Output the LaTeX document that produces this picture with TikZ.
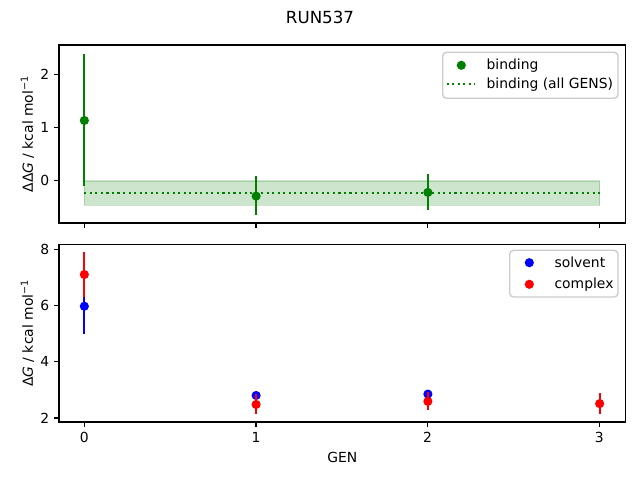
\documentclass[tikz,border=0pt]{standalone}
\usepackage{fontspec}
\setmainfont{DejaVu Sans}
\definecolor{mgreen}{HTML}{008000}
\definecolor{mblue}{HTML}{0000FF}
\definecolor{mred}{HTML}{FF0000}
\definecolor{legedge}{HTML}{CCCCCC}
\begin{document}
\begin{tikzpicture}[x=0.01in,y=-0.01in,
  lab/.style={font=\fontsize{10bp}{12bp}\selectfont, inner sep=0pt},
  spine/.style={line width=0.8bp, black},
  tickmark/.style={line width=0.8bp, black},
  ebar/.style={line width=1.5bp},
  dotline/.style={mgreen, line width=1.5bp, dash pattern=on 1.5bp off 2.475bp},
  legbox/.style={draw=legedge, line width=1bp, fill=white, fill opacity=0.8, rounded corners=2.8bp}]
\useasboundingbox (0,0) rectangle (640,480);
\fill[white] (0,0) rectangle (640,480);
\def\mr{3.3bp}
\node[font=\fontsize{12bp}{14bp}\selectfont, inner sep=0pt] (title) at (320,17) {RUN537};
% top axes data
\begin{scope}[xshift=0.843in, yshift=-1.803in, x=1.7167in, y=0.53in]
  \filldraw[fill=mgreen, draw=mgreen, fill opacity=0.2, draw opacity=0.2, line width=1bp] (0,-0.01) rectangle (3,-0.47);
  \draw[dotline] (0,-0.237) -- (3,-0.237);
  \draw[mgreen, ebar] (0,-0.11) -- (0,2.39);
  \fill[mgreen] (0,1.13) circle[radius=\mr];
  \draw[mgreen, ebar] (1,0.08) -- (1,-0.655);
  \fill[mgreen] (1,-0.296) circle[radius=\mr];
  \draw[mgreen, ebar] (2,0.13) -- (2,-0.56);
  \fill[mgreen] (2,-0.226) circle[radius=\mr];
\end{scope}
% bottom axes data
\begin{scope}[xshift=0.843in, yshift=-4.741in, x=1.7167in, y=0.2805in]
  \draw[mblue, ebar] (0,5.0) -- (0,6.98);
  \fill[mblue] (0,5.99) circle[radius=\mr];
  \draw[mblue, ebar] (1,2.76) -- (1,2.86);
  \fill[mblue] (1,2.81) circle[radius=\mr];
  \draw[mblue, ebar] (2,2.81) -- (2,2.91);
  \fill[mblue] (2,2.86) circle[radius=\mr];
  \draw[mred, ebar] (0,6.32) -- (0,7.92);
  \fill[mred] (0,7.12) circle[radius=\mr];
  \draw[mred, ebar] (1,2.15) -- (1,2.86);
  \fill[mred] (1,2.49) circle[radius=\mr];
  \draw[mred, ebar] (2,2.31) -- (2,2.94);
  \fill[mred] (2,2.60) circle[radius=\mr];
  \draw[mred, ebar] (3,2.15) -- (3,2.89);
  \fill[mred] (3,2.52) circle[radius=\mr];
\end{scope}
% frames
\draw[spine] (59,45) rectangle (625.5,223);
\draw[spine] (59,244.3) rectangle (625.5,422);
% x ticks
\foreach \g in {0,1,2,3} {
  \draw[tickmark] ({84.3+171.67*\g},223) -- ++(0,4.9);
  \draw[tickmark] ({84.3+171.67*\g},422) -- ++(0,4.9);
  \node[lab] (xt\g) at ({84.3+171.67*\g},437.3) {\g};
}
% y ticks top
\foreach \v in {0,1,2} {
  \draw[tickmark] (59,{180.3-53*\v}) -- ++(-4.9,0);
  \node[lab, anchor=east] (yt\v) at (49.6,{180.3-53*\v}) {\v};
}
% y ticks bottom
\foreach \v in {2,4,6,8} {
  \draw[tickmark] (59,{418-28.05*(\v-2)}) -- ++(-4.9,0);
  \node[lab, anchor=east] (yb\v) at (49.6,{418-28.05*(\v-2)}) {\v};
}
% axis labels
\node[lab, rotate=90] (ylabtop) at (27.5,134) {ΔΔ\textit{G} / kcal mol\textsuperscript{−1}};
\node[lab, rotate=90] (ylabbot) at (27.5,333.2) {Δ\textit{G} / kcal mol\textsuperscript{−1}};
\node[lab] (xlab) at (342.3,457.3) {GEN};
% legend top
\filldraw[legbox] (442.7,52.3) rectangle (618,98.3);
\fill[mgreen] (461.3,65.3) circle[radius=\mr];
\node[lab, anchor=base west] (lbind) at (486.3,70) {binding};
\draw[dotline] (446.7,83.7) -- (475,83.7);
\node[lab, anchor=base west] (lall) at (486.3,88.6) {binding (all GENS)};
% legend bottom
\filldraw[legbox] (509.7,250.3) rectangle (618,297);
\fill[mblue] (529.3,262.7) circle[radius=\mr];
\node[lab, anchor=base west] (lsolv) at (554.3,267.3) {solvent};
\fill[mred] (529.3,284.3) circle[radius=\mr];
\node[lab, anchor=base west] (lcomp) at (554.3,288.9) {complex};
\end{tikzpicture}
\end{document}
